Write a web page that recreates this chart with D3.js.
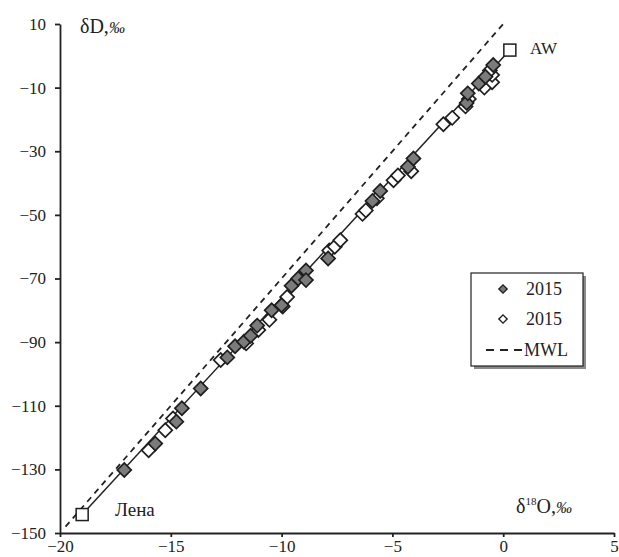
<!DOCTYPE html>
<html>
<head>
<meta charset="utf-8">
<script src="https://cdn.jsdelivr.net/npm/d3@7"></script>
<style>
  html, body { margin: 0; padding: 0; background: #fff; }
  svg { display: block; font-family: "Liberation Serif", "Times New Roman", serif; }
  .axis path, .axis line { stroke: #222; stroke-width: 1.8; }
  .axis text { font-size: 17px; fill: #222; font-family: "Liberation Serif", serif; }
</style>
</head>
<body>
<svg id="chart" width="619" height="557"></svg>
<script>
// δ18O / δD samples, 2015 (filled diamonds)
const filledO = [-17.1, -15.7, -14.75, -14.5, -13.65, -12.45, -12.1, -11.7, -11.4, -11.1,
  -10.45, -10.0, -9.55, -9.25, -8.9, -8.9, -7.9, -5.9, -5.55, -4.3, -4.05, -1.65, -1.6, -1.1, -0.8, -0.45];
const filledD = [-130.2, -121.9, -115.0, -110.8, -104.6, -94.8, -91.3, -89.9, -88.0, -84.8,
  -80.0, -78.4, -72.3, -70.0, -67.5, -70.5, -63.7, -45.6, -42.5, -34.9, -32.3, -14.8, -11.8, -8.7, -6.6, -2.9];

// δ18O / δD samples, 2015 (open diamonds)
const openO = [-16.0, -15.25, -14.9, -12.75, -11.6, -11.05, -10.55, -9.95, -9.75, -7.85, -7.6, -7.35,
  -6.35, -6.2, -5.7, -4.95, -4.75, -4.15, -2.7, -2.3, -1.7, -1.55, -0.85, -0.5, -0.5, -0.6];
const openD = [-124.0, -117.7, -114.0, -95.6, -90.4, -86.2, -83.0, -78.8, -75.8, -61.2, -60.0, -58.0,
  -49.7, -48.6, -44.8, -39.1, -37.6, -36.3, -21.5, -19.5, -15.9, -13.6, -10.0, -8.3, -6.0, -4.6];

// End members: Lena river water and Atlantic water
const endNames = ["Лена", "AW"];
const endO = [-19.0, 0.3];
const endD = [-144.2, 1.8];

// Meteoric water line δD = 8·δ18O + 10, drawn between these δ18O limits
const mwlO = [-19.75, 0.05];
const mwlSlope = 8, mwlIntercept = 10;

const xTicks = [-20, -15, -10, -5, 0, 5];
const yTicks = [10, -10, -30, -50, -70, -90, -110, -130, -150];
const legendLabels = ["2015", "2015", "MWL"];

const svg = d3.select("#chart");
const x = d3.scaleLinear().domain([-20, 5]).range([60, 614]);
const y = d3.scaleLinear().domain([-150, 10]).range([533, 24]);

// axes
svg.append("g").attr("class", "axis")
  .attr("transform", `translate(0,${y(-150)})`)
  .call(d3.axisBottom(x).tickValues(xTicks).tickSize(4).tickPadding(3).tickSizeOuter(0));
svg.append("g").attr("class", "axis")
  .attr("transform", `translate(${x(-20)},0)`)
  .call(d3.axisLeft(y).tickValues(yTicks).tickSize(5).tickPadding(9).tickSizeOuter(0));

// MWL
svg.append("line")
  .attr("x1", x(mwlO[0])).attr("y1", y(mwlSlope * mwlO[0] + mwlIntercept))
  .attr("x2", x(mwlO[1])).attr("y2", y(mwlSlope * mwlO[1] + mwlIntercept))
  .attr("stroke", "#222").attr("stroke-width", 1.8).attr("stroke-dasharray", "6,5");

// mixing line between end members
svg.append("line")
  .attr("x1", x(endO[0])).attr("y1", y(endD[0]))
  .attr("x2", x(endO[1])).attr("y2", y(endD[1]))
  .attr("stroke", "#222").attr("stroke-width", 1.5);

const diamond = d3.symbol().type(d3.symbolSquare).size(98);

function drawPoints(xs, ys, fill) {
  svg.append("g").selectAll("path")
    .data(xs.map((v, i) => [v, ys[i]]))
    .join("path")
    .attr("d", diamond)
    .attr("transform", d => `translate(${x(d[0])},${y(d[1])}) rotate(45)`)
    .attr("fill", fill).attr("stroke", "#1e1e1e").attr("stroke-width", 1.7);
}
drawPoints(openO, openD, "#fff");
drawPoints(filledO, filledD, "#7b7b7b");

// end-member squares
svg.append("g").selectAll("rect")
  .data(endO.map((v, i) => [v, endD[i]]))
  .join("rect")
  .attr("x", d => x(d[0]) - 6).attr("y", d => y(d[1]) - 6)
  .attr("width", 12).attr("height", 12)
  .attr("fill", "#fff").attr("stroke", "#1e1e1e").attr("stroke-width", 1.5);

svg.append("text").attr("x", 115).attr("y", 516).attr("font-size", 19).attr("fill", "#222").text(endNames[0]);
svg.append("text").attr("x", 530).attr("y", 54).attr("font-size", 17).attr("fill", "#222").text(endNames[1]);

// axis titles
const yt = svg.append("text").attr("x", 80).attr("y", 33).attr("font-size", 20).attr("fill", "#222");
yt.append("tspan").text("δD,");
yt.append("tspan").attr("font-style", "italic").attr("font-size", 16).text("‰");

const xt = svg.append("text").attr("x", 516).attr("y", 513).attr("font-size", 20).attr("fill", "#222");
xt.append("tspan").text("δ");
xt.append("tspan").attr("font-size", 11).attr("dy", -8).text("18");
xt.append("tspan").attr("dy", 8).text("O,");
xt.append("tspan").attr("font-style", "italic").attr("font-size", 16).text("‰");

// legend
const lg = svg.append("g");
lg.append("rect").attr("x", 474).attr("y", 276).attr("width", 112).attr("height", 93).attr("fill", "#8a8a8a");
lg.append("rect").attr("x", 471).attr("y", 273).attr("width", 112).attr("height", 93)
  .attr("fill", "#fff").attr("stroke", "#222").attr("stroke-width", 1.2);
const rowY = [289, 319, 350];
const legSym = d3.symbol().type(d3.symbolSquare).size(34);
lg.append("path").attr("d", legSym).attr("transform", `translate(503,${rowY[0]}) rotate(45)`)
  .attr("fill", "#7b7b7b").attr("stroke", "#1e1e1e").attr("stroke-width", 1.4);
lg.append("path").attr("d", legSym).attr("transform", `translate(503,${rowY[1]}) rotate(45)`)
  .attr("fill", "#fff").attr("stroke", "#1e1e1e").attr("stroke-width", 1.4);
lg.append("line").attr("x1", 486).attr("x2", 522).attr("y1", rowY[2]).attr("y2", rowY[2])
  .attr("stroke", "#222").attr("stroke-width", 1.8).attr("stroke-dasharray", "8,6");
lg.selectAll("text.lab").data(legendLabels).join("text")
  .attr("class", "lab")
  .attr("x", (d, i) => i === 2 ? 524 : 526).attr("y", (d, i) => rowY[i] + 6)
  .attr("font-size", 18).attr("fill", "#222").text(d => d);
</script>
</body>
</html>
